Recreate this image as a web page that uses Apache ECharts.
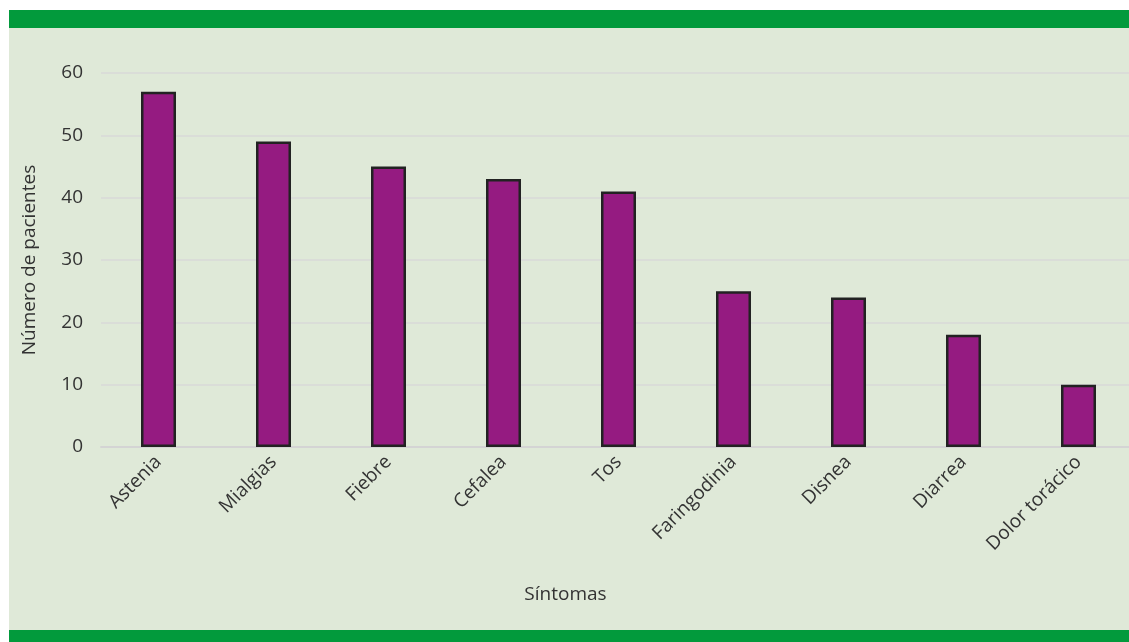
<!DOCTYPE html>
<html>
<head>
<meta charset="utf-8">
<script src="https://cdn.jsdelivr.net/npm/echarts@6/dist/echarts.min.js"></script>
<style>
  html, body { margin: 0; padding: 0; background: #ffffff; overflow: hidden; }
  #chart { width: 1136px; height: 642px; }
</style>
</head>
<body>
<div id="chart"></div>
<script>
// Síntomas registrados y número de pacientes con cada uno
const categories = ['Astenia', 'Mialgias', 'Fiebre', 'Cefalea', 'Tos', 'Faringodinia', 'Disnea', 'Diarrea', 'Dolor torácico'];
const pacientes = [57, 49, 45, 43, 41, 25, 24, 18, 10];
const yTicks = [0, 10, 20, 30, 40, 50, 60];

const FONT = '"Open Sans", Lato, sans-serif';
const chart = echarts.init(document.getElementById('chart'), null, { renderer: 'canvas' });

chart.setOption({
  backgroundColor: '#ffffff',
  animation: false,
  graphic: [
    { type: 'rect', z: -10, shape: { x: 9, y: 10, width: 1127, height: 632 }, style: { fill: '#dfe9d8' } },
    { type: 'rect', z: -9, shape: { x: 9, y: 10, width: 1127, height: 18 }, style: { fill: '#029a3c' } },
    { type: 'rect', z: -9, shape: { x: 9, y: 630, width: 1127, height: 12 }, style: { fill: '#029a3c' } }
  ],
  grid: { left: 101, right: 0, top: 73, bottom: 195, containLabel: false },
  xAxis: {
    type: 'category',
    data: categories,
    name: 'Síntomas',
    nameLocation: 'middle',
    nameGap: 138,
    nameTextStyle: { color: '#333333', fontFamily: FONT, fontSize: 19, padding: [0, 106, 0, 0] },
    axisLine: { show: true, lineStyle: { color: '#d4d4d4', width: 2 } },
    axisTick: { show: false },
    axisLabel: { rotate: 45, margin: 12, color: '#333333', fontFamily: FONT, fontSize: 19, interval: 0 }
  },
  yAxis: {
    type: 'value',
    min: yTicks[0],
    max: yTicks[yTicks.length - 1],
    interval: 10,
    name: 'Número de pacientes',
    nameLocation: 'middle',
    nameGap: 62,
    nameTextStyle: { color: '#333333', fontFamily: FONT, fontSize: 19 },
    axisLine: { show: false },
    axisTick: { show: false },
    axisLabel: { margin: 18, color: '#333333', fontFamily: FONT, fontSize: 19 },
    splitLine: { lineStyle: { color: '#d9d9d9', width: 1.5 } }
  },
  series: [{
    type: 'bar',
    data: pacientes,
    barWidth: 35,
    itemStyle: { color: '#951b81', borderColor: '#222222', borderWidth: 2.5 }
  }]
});
</script>
</body>
</html>
